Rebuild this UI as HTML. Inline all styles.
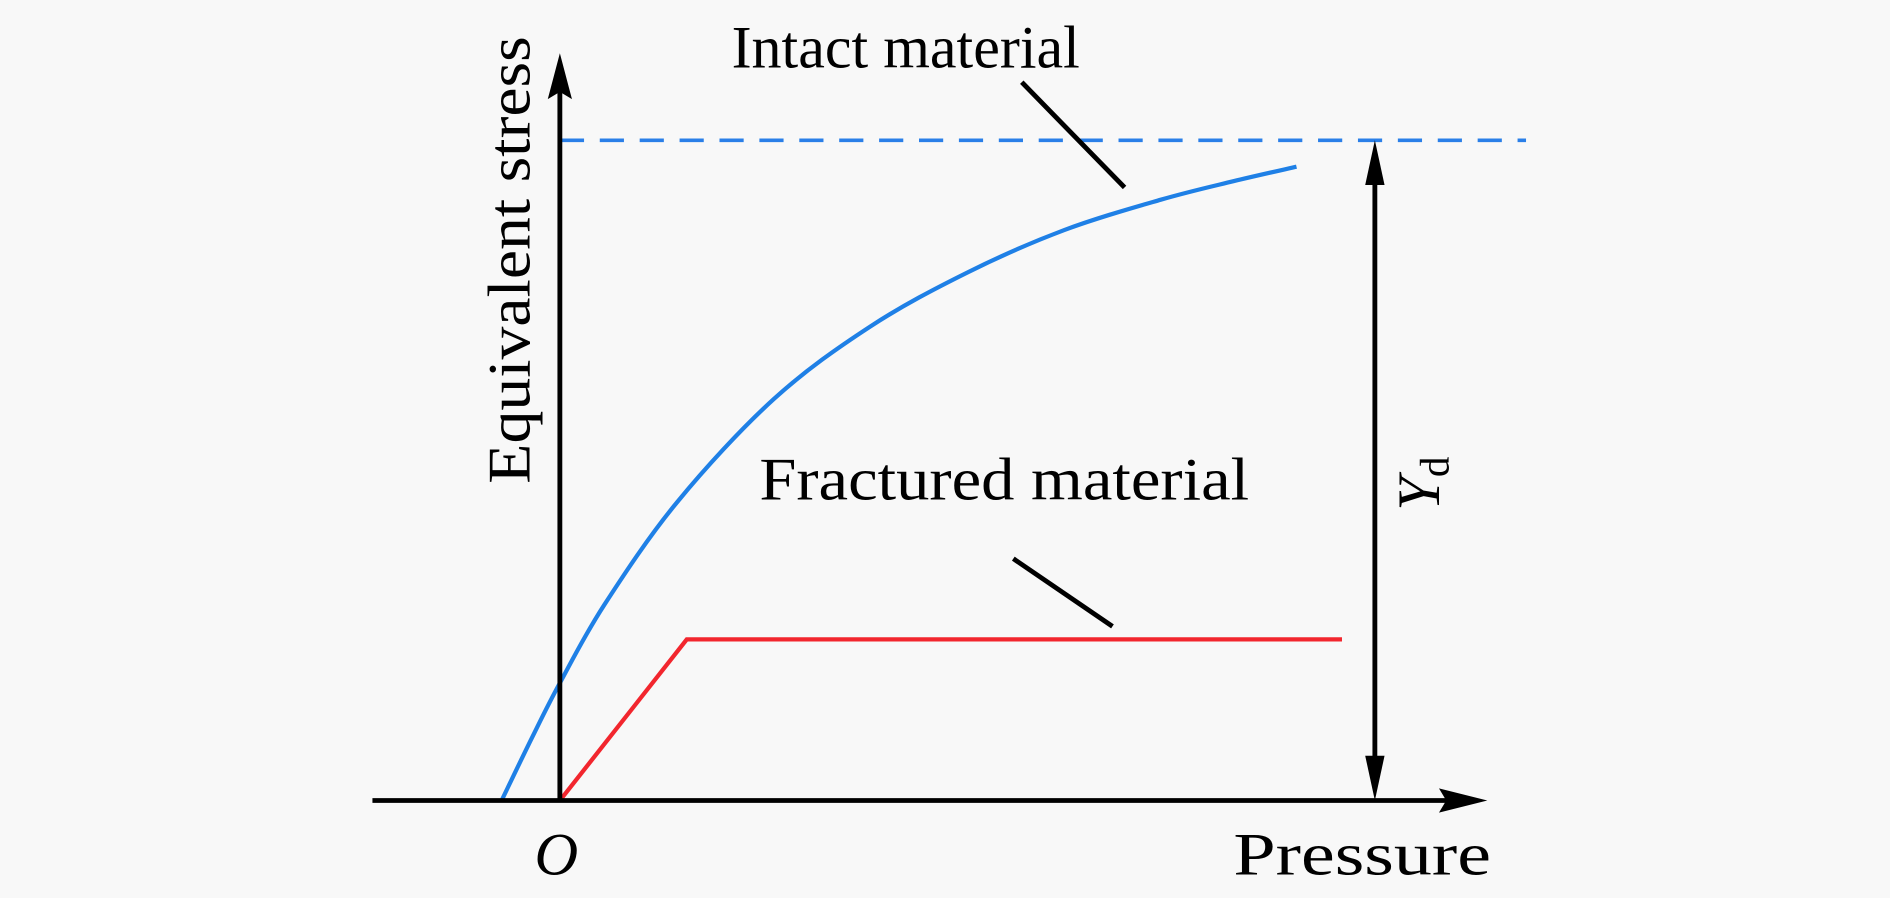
<!DOCTYPE html>
<html><head><meta charset="utf-8"><style>
html,body{margin:0;padding:0;background:#f8f8f8;}
svg{display:block;}
text{font-family:"Liberation Serif",serif;fill:#000;}
</style></head><body>
<svg id="chart" width="1890" height="898" viewBox="0 0 1563 742.6" xmlns="http://www.w3.org/2000/svg">
<rect width="1563" height="743" fill="#f8f8f8"/>
<g id="marks"></g>
<line x1="308" y1="662" x2="1200" y2="662" stroke="#000" stroke-width="4"/>
<path d="M1230,662 L1190,652 L1196,662 L1190,672 z" fill="#000"/>
<line x1="463" y1="662" x2="463" y2="75" stroke="#000" stroke-width="4"/>
<path d="M463,44 L453,82 L463,76 L473,82 z" fill="#000"/>
<line x1="1137" y1="140" x2="1137" y2="640" stroke="#000" stroke-width="4"/>
<path d="M1137,116 L1129,153 L1145,153 z" fill="#000"/>
<path d="M1137,662 L1129,625 L1145,625 z" fill="#000"/>
<line x1="845" y1="68" x2="930" y2="155" stroke="#000" stroke-width="4"/>
<line x1="838" y1="462" x2="920" y2="518" stroke="#000" stroke-width="4"/>
<text x="605" y="56" font-size="50" textLength="288" lengthAdjust="spacingAndGlyphs">Intact material</text>
<text x="628" y="413" font-size="50" textLength="405" lengthAdjust="spacingAndGlyphs">Fractured material</text>
<text x="1020" y="723" font-size="50" textLength="213" lengthAdjust="spacingAndGlyphs">Pressure</text>
<text x="442" y="723" font-size="50" font-style="italic">O</text>
<text transform="translate(438,215) rotate(-90)" text-anchor="middle" font-size="50" textLength="370" lengthAdjust="spacingAndGlyphs">Equivalent stress</text>
<text transform="translate(1190,400) rotate(-90)" text-anchor="middle" font-size="50"><tspan font-style="italic">Y</tspan><tspan font-size="34" dy="8">d</tspan></text>
</svg>
<script>
const intactX = [-7.3,-3.5,0,5.6,14.7,26.8,38.9,51.1,63.2,75.3,84.4,92.3];
const intactY = [0,9.5,17.8,29.7,45.2,60.8,71.8,80.0,86.4,91.0,93.8,96.0];
const fracturedX = [0,15.9,98.0];
const fracturedY = [0,24.4,24.4];
const ydValue = 100;
const sx = v => 463 + v*6.6;
const sy = v => 662 - v*5.46;
const NS = 'http://www.w3.org/2000/svg';
const g = document.getElementById('marks');
function smooth(xs, ys){
  const p = xs.map((x,i)=>[sx(x),sy(ys[i])]);
  let d = 'M'+p[0][0]+','+p[0][1];
  for(let i=0;i<p.length-1;i++){
    const p0=p[i-1]||p[i], p1=p[i], p2=p[i+1], p3=p[i+2]||p2;
    const c1=[p1[0]+(p2[0]-p0[0])/6, p1[1]+(p2[1]-p0[1])/6];
    const c2=[p2[0]-(p3[0]-p1[0])/6, p2[1]-(p3[1]-p1[1])/6];
    d+=' C'+c1+' '+c2+' '+p2;
  }
  return d;
}
const dash = document.createElementNS(NS,'line');


dash.setAttribute('x1', sx(0)); dash.setAttribute('x2', 1262);
dash.setAttribute('y1', sy(ydValue)); dash.setAttribute('y2', sy(ydValue));
dash.setAttribute('stroke', '#2a7fe8'); dash.setAttribute('stroke-width', '3');
dash.setAttribute('stroke-dasharray', '20 13');
g.appendChild(dash);
const blue = document.createElementNS(NS,'path');


blue.setAttribute('d', smooth(intactX, intactY));
blue.setAttribute('fill', 'none'); blue.setAttribute('stroke', '#1f80e6'); blue.setAttribute('stroke-width', '3.5');
g.appendChild(blue);
const red = document.createElementNS(NS,'polyline');


red.setAttribute('points', fracturedX.map((x,i)=>sx(x)+','+sy(fracturedY[i])).join(' '));
red.setAttribute('fill', 'none'); red.setAttribute('stroke', '#f2262e'); red.setAttribute('stroke-width', '3.5');
g.appendChild(red);
</script>
</body></html>
